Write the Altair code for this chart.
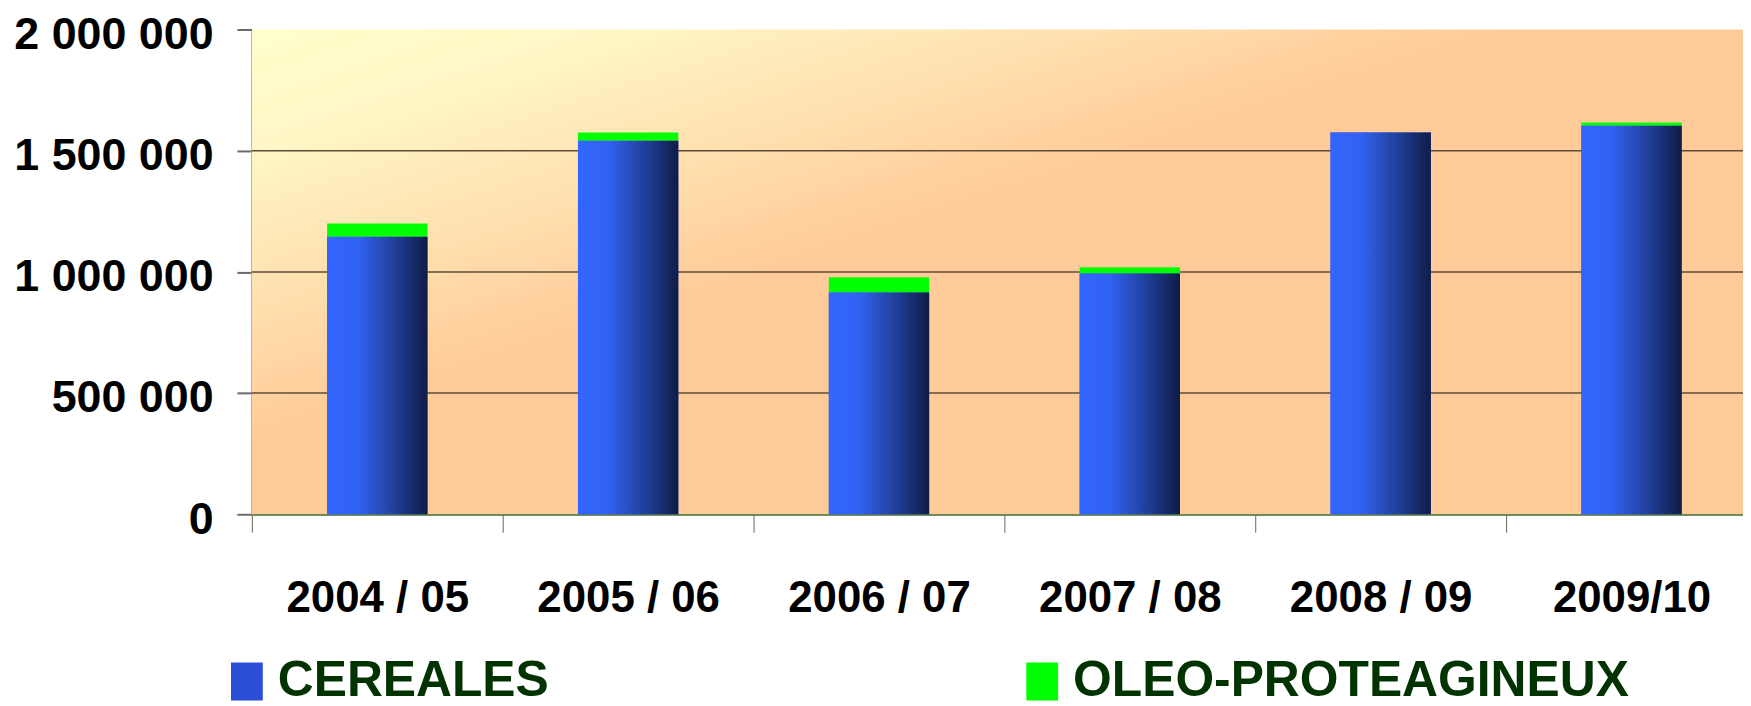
import altair as alt
import pandas as pd

# ---- data ----
saisons = ["2004 / 05", "2005 / 06", "2006 / 07", "2007 / 08", "2008 / 09", "2009/10"]
cereales = [1146000, 1542000, 916000, 994000, 1575000, 1604000]
oleo = [54000, 33000, 62000, 25000, 0, 12000]
series = ["CEREALES", "OLEO-PROTEAGINEUX"]
y_ticks = [0, 500000, 1000000, 1500000, 2000000]
grid_values = [500000, 1000000, 1500000]

df = pd.DataFrame({"saison": saisons, "cereales": cereales, "oleo": oleo})
df["total"] = df["cereales"] + df["oleo"]
df["serie_c"] = series[0]
df["serie_o"] = series[1]

W, H = 1498, 487
BAND_RANGE = 1512  # band scale runs a little past the visible right edge
FONT = "Liberation Sans"

x_scale = alt.Scale(domain=saisons, range=[0, BAND_RANGE], paddingInner=0, paddingOuter=0)
x_axis = alt.Axis(
    tickBand="extent", labelAngle=0, labelFont=FONT, labelFontWeight="bold",
    labelFontSize=44, labelColor="black", labelPadding=45, labelLimit=400,
    labelOverlap=False, tickSize=18,
    tickColor="#5f6b55", tickWidth=1, domainColor="#3f6e2e", domainWidth=2, grid=False,
)
y_scale = alt.Scale(domain=[0, 2000000], nice=False)
y_axis = alt.Axis(
    values=y_ticks,
    labelExpr="replace(replace(format(datum.value, ','), ',', ' '), ',', ' ')",
    labelFont=FONT, labelFontWeight="bold", labelFontSize=45, labelLimit=400,
    labelColor="black", labelPadding=24, labelOffset=5, tickSize=15, tickColor="#6a6a6a",
    tickWidth=2, domainColor="#808068", domainWidth=2, grid=False,
)
legend = alt.Legend(
    title=None, orient="none", legendX=-30, legendY=630, direction="horizontal",
    columns=2, columnPadding=470, symbolType="M-0.84,-1H0.84V1H-0.84Z", symbolSize=1444,
    symbolStrokeWidth=0, symbolOpacity=1, labelOffset=6, labelFont=FONT,
    labelFontWeight="bold", labelFontSize=50, labelColor="#003300", labelLimit=1000,
    padding=0, rowPadding=0,
)
color_scale = alt.Scale(domain=series, range=["#2a4fd6", "#00ff00"])


def X():
    return alt.X("saison:N", sort=saisons, scale=x_scale, axis=x_axis, title=None)


def Y(field):
    return alt.Y(field, type="quantitative", scale=y_scale, axis=y_axis, title=None)


bg = alt.Chart(alt.Data(values=[{}])).mark_rect(
    color=alt.LinearGradient(
        gradient="linear",
        stops=[alt.GradientStop(color="#ffffcc", offset=0),
               alt.GradientStop(color="#fff6c6", offset=0.3),
               alt.GradientStop(color="#ffcc99", offset=1)],
        x1=0, y1=0, x2=0.42, y2=0.42,
    )
).encode(x=alt.value(0), x2=alt.value(W), y=alt.value(0), y2=alt.value(H))

grid = alt.Chart(pd.DataFrame({"g": grid_values})).mark_rule(
    color="#5e4c38", strokeWidth=1.5
).encode(y=Y("g"), x=alt.value(0), x2=alt.value(W))

bar_w = alt.RelativeBandSize(0.4)

cer_solid = alt.Chart(df).mark_bar(width=bar_w).encode(
    x=X(), y=Y("cereales"),
    color=alt.Color("serie_c:N", scale=color_scale, legend=legend),
)

cer_grad = alt.Chart(df).mark_bar(
    width=bar_w,
    color=alt.LinearGradient(
        gradient="linear",
        stops=[alt.GradientStop(color="#3366ff", offset=0),
               alt.GradientStop(color="#3162f2", offset=0.3),
               alt.GradientStop(color="#22419e", offset=0.65),
               alt.GradientStop(color="#101c48", offset=1)],
        x1=0, y1=0, x2=1, y2=0,
    ),
).encode(x=X(), y=Y("cereales"))

oleo_bar = alt.Chart(df).mark_bar(width=bar_w).encode(
    x=X(), y=Y("cereales"), y2="total:Q",
    color=alt.Color("serie_o:N", scale=color_scale, legend=legend),
)

chart = alt.layer(bg, grid, cer_solid, cer_grad, oleo_bar).properties(
    width=W, height=H,
    autosize=alt.AutoSizeParams(type="none"),
    padding={"left": 245, "top": 20, "right": 0, "bottom": 191},
).configure_view(strokeWidth=0)

chart.save("out.html", embed_options={"renderer": "svg", "actions": False})
